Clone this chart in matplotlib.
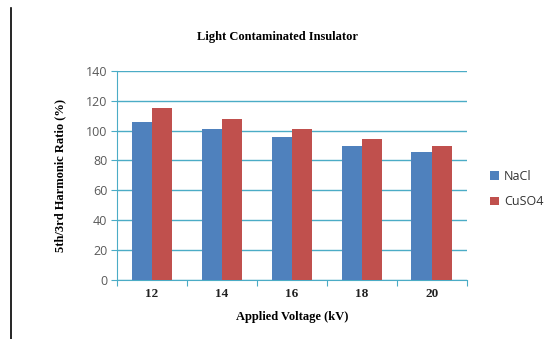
import matplotlib.pyplot as plt
import numpy as np

# harmonic ratio vs applied voltage, light contamination
voltages = ["12", "14", "16", "18", "20"]
nacl = [105.5, 101, 95.5, 90, 85.5]
cuso4 = [115, 108, 101, 94.5, 90]

blue = "#4F81BD"
red = "#C0504D"
grid_col = "#4BACC6"
tick_col = "#595959"

fig = plt.figure(figsize=(5.57, 3.39), dpi=100)
ax = fig.add_axes([0.210, 0.174, 0.628, 0.617])

x = np.arange(len(voltages))
w = 0.29
ax.bar(x - w / 2, nacl, w, color=blue, label="NaCl", zorder=3)
ax.bar(x + w / 2, cuso4, w, color=red, label="CuSO4", zorder=3)

ax.set_xlim(-0.5, len(voltages) - 0.5)
ax.set_ylim(0, 140)
ax.set_yticks(range(0, 141, 20))
ax.yaxis.grid(True, color=grid_col, lw=1, zorder=0)

# category ticks sit on the group boundaries
ax.set_xticks(np.arange(-0.5, len(voltages)), minor=False)
ax.set_xticklabels([])
ax.set_xticks(x, minor=True)
ax.set_xticklabels(voltages, minor=True, family="Liberation Serif",
                   fontweight="bold", fontsize=9.5, color="#222222")
ax.tick_params(axis="x", which="minor", length=0, pad=6)
ax.tick_params(axis="x", which="major", length=4, color=grid_col, direction="out")
ax.tick_params(axis="y", length=4, color=grid_col, direction="out",
               labelcolor=tick_col, labelsize=9, pad=3)
for lab in ax.get_yticklabels():
    lab.set_family("Open Sans")

for s in ["top", "right"]:
    ax.spines[s].set_visible(False)
for s in ["left", "bottom"]:
    ax.spines[s].set_color(grid_col)

ax.set_title("Light Contaminated Insulator", family="Liberation Serif",
             fontweight="bold", fontsize=9, pad=22, x=0.46)
ax.set_xlabel("Applied Voltage (kV)", family="Liberation Serif",
              fontweight="bold", fontsize=9, labelpad=8)
ax.set_ylabel("5th/3rd Harmonic Ratio (%)", family="Liberation Serif",
              fontweight="bold", fontsize=9, labelpad=14)

leg = ax.legend(loc="center left", bbox_to_anchor=(1.035, 0.435), frameon=False,
                prop={"family": "Open Sans", "size": 9}, handlelength=0.7,
                handleheight=0.7, handletextpad=0.4, labelspacing=1.0,
                labelcolor="#333333")

# thin vertical rule on the left edge of the page
fig.add_artist(plt.Line2D([0.020, 0.020], [0, 0.975], color="black", lw=1.2))

fig.savefig("out.png", dpi=100)
